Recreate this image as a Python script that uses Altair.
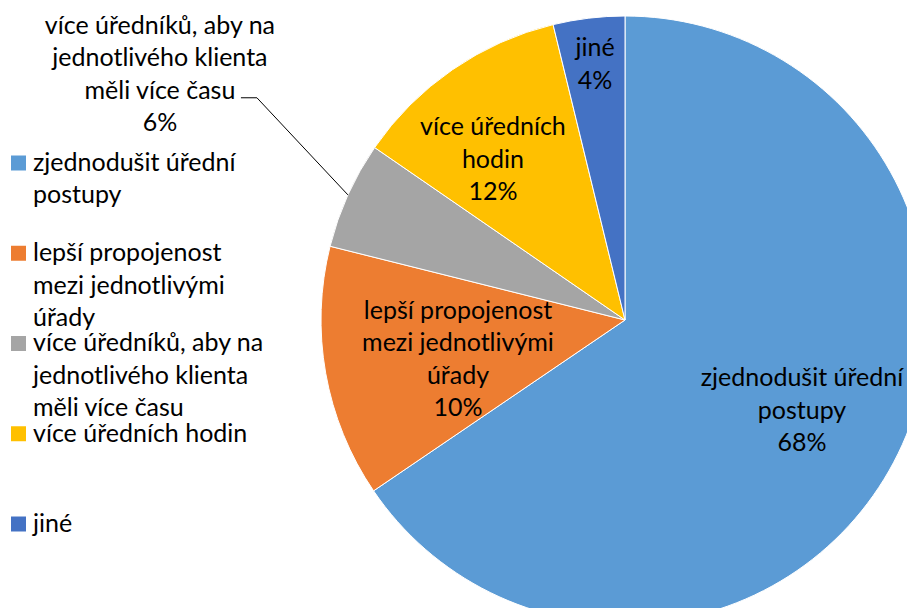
import math
import altair as alt
import pandas as pd

# ---- data ----
categories = [
    "zjednodušit úřední postupy",
    "lepší propojenost mezi jednotlivými úřady",
    "více úředníků, aby na jednotlivého klienta měli více času",
    "více úředních hodin",
    "jiné",
]
# slice sizes as drawn in the picture
values = [65.5, 13.4, 5.7, 11.6, 3.8]
# percentages as printed in the data labels
pct_labels = ["68%", "10%", "6%", "12%", "4%"]
pie_label_lines = [
    ["zjednodušit úřední", "postupy"],
    ["lepší propojenost", "mezi jednotlivými", "úřady"],
    ["více úředníků, aby na", "jednotlivého klienta", "měli více času"],
    ["více úředních", "hodin"],
    ["jiné"],
]
legend_label_lines = [
    ["zjednodušit úřední", "postupy"],
    ["lepší propojenost", "mezi jednotlivými", "úřady"],
    ["více úředníků, aby na", "jednotlivého klienta", "měli více času"],
    ["více úředních hodin"],
    ["jiné"],
]
colors = ["#5B9BD5", "#ED7D31", "#A5A5A5", "#FFC000", "#4472C4"]

# ---- layout / style ----
W, H = 899, 600
CX, CY, R = 617, 312, 304
FONT = "Lato"
FS = 25
LH = 32.5
# label radius and angular shift (degrees) per slice
label_style = [(199, -0.7), (171.6, -3.2), (526, 3.55), (207.8, -4.9), (257.3, 0.15)]

total = sum(values)
cum = 0
rows = []
for i, (c, v) in enumerate(zip(categories, values)):
    mid = (cum + v / 2) / total * 360
    cum += v
    r, sh = label_style[i]
    a = math.radians(mid + sh)
    lines = pie_label_lines[i] + [pct_labels[i]]
    cx_ = CX + r * math.sin(a)
    cy_ = CY - r * math.cos(a)
    rows.append(dict(cat=c, value=v, idx=i, mid=mid, lx=cx_, ly=cy_,
                     ty=cy_ - (len(lines) - 1) * LH / 2, txt="\n".join(lines)))
df = pd.DataFrame(rows)

# leader line for the outside label (slice index 2)
g = rows[2]
ea = math.radians(g["mid"])
leader = pd.DataFrame([
    dict(p=0, x=g["lx"] + 81, y=g["ly"] + 23.5),
    dict(p=1, x=g["lx"] + 97, y=g["ly"] + 23.5),
    dict(p=2, x=CX + R * math.sin(ea), y=CY - R * math.cos(ea)),
])

leg = pd.DataFrame(dict(
    cat=categories,
    txt=["\n".join(l) for l in legend_label_lines],
    ly=[155 + 90.25 * i for i in range(len(categories))],
))

color_scale = alt.Scale(domain=categories, range=colors)

pie = alt.Chart(df).mark_arc(radius=R, stroke="white", strokeWidth=1).encode(
    theta=alt.Theta("value:Q", stack=True),
    color=alt.Color("cat:N", scale=color_scale, legend=None),
    order=alt.Order("idx:Q"),
    x=alt.value(CX),
    y=alt.value(CY),
)

labels = alt.Chart(df).mark_text(
    font=FONT, fontSize=FS, lineHeight=LH, align="center", baseline="middle",
    lineBreak="\n", color="#000000",
).encode(
    x=alt.X("lx:Q", scale=None, axis=None),
    y=alt.Y("ty:Q", scale=None, axis=None),
    text="txt:N",
)

lead = alt.Chart(leader).mark_line(color="#000000", strokeWidth=1).encode(
    x=alt.X("x:Q", scale=None, axis=None),
    y=alt.Y("y:Q", scale=None, axis=None),
    order=alt.Order("p:Q"),
)

leg_sq = alt.Chart(leg).mark_square(size=225, opacity=1).encode(
    x=alt.value(10.5),
    y=alt.Y("ly:Q", scale=None, axis=None),
    color=alt.Color("cat:N", scale=color_scale, legend=None),
)

leg_txt = alt.Chart(leg).mark_text(
    font=FONT, fontSize=FS, lineHeight=LH, align="left", baseline="line-top",
    dy=-LH / 2, lineBreak="\n", color="#000000",
).encode(
    x=alt.value(25),
    y=alt.Y("ly:Q", scale=None, axis=None),
    text="txt:N",
)

chart = alt.layer(pie, labels, lead, leg_sq, leg_txt).properties(
    width=W, height=H,
    autosize=alt.AutoSizeParams(type="none"),
    padding=0,
    background="white",
).configure_view(stroke=None)

chart.save("out.html", embed_options={"renderer": "svg", "actions": False})
